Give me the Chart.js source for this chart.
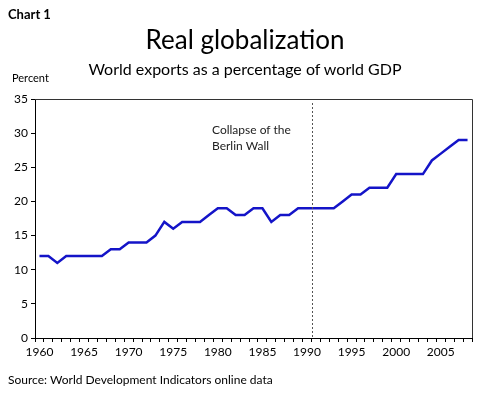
<!DOCTYPE html>
<html>
<head>
<meta charset="utf-8">
<script src="https://cdn.jsdelivr.net/npm/chart.js@4/dist/chart.umd.min.js"></script>
<style>
  body { margin: 0; background: #fff; }
  #wrap { position: relative; width: 480px; height: 396px; font-family: Lato, sans-serif; color: #000; }
  #wrap canvas { position: absolute; left: 0; top: 0; }
  .txt { position: absolute; white-space: nowrap; line-height: 1; }
</style>
</head>
<body>
<div id="wrap">
  <canvas id="chart" width="480" height="396"></canvas>
  <div class="txt" style="left:8px; top:8px; font-size:13px; font-weight:bold;">Chart 1</div>
  <div class="txt" style="left:0; width:490px; text-align:center; top:26px; font-size:26px;">Real globalization</div>
  <div class="txt" style="left:0; width:490px; text-align:center; top:61px; font-size:16px;">World exports as a percentage of world GDP</div>
  <div class="txt" style="left:12px; top:72px; font-size:11px;">Percent</div>
  <div class="txt" style="left:212px; top:122px; font-size:12px; line-height:16px; color:#222;">Collapse of the<br>Berlin Wall</div>
  <div class="txt" style="left:8px; top:374px; font-size:12px;">Source: World Development Indicators online data</div>
</div>
<script>
// years 1960 - 2008
const years = [];
for (let y = 1960; y <= 2008; y++) {
    years.push(String(y));
}

// world exports, % of world GDP
const exportsShare = [
    12, 12, 11, 12, 12, 12, 12, 12, 13, 13,
    14, 14, 14, 15, 17, 16, 17, 17, 17, 18,
    19, 19, 18, 18, 19, 19, 17, 18, 18, 19,
    19, 19, 19, 19, 20, 21, 21, 22, 22, 22,
    24, 24, 24, 24, 26, 27, 28, 29, 29
];

const yTicks = [0, 5, 10, 15, 20, 25, 30, 35];
const wallPosition = 30.6; // category index, between 1990 and 1991

const frameAndMarker = {
    id: 'frameAndMarker',
    afterDatasetsDraw(chart) {
        const { ctx, chartArea, scales } = chart;
        ctx.save();
        // dashed line
        const x = Math.round(scales.x.getPixelForValue(wallPosition)) + 0.5;
        ctx.strokeStyle = '#555';
        ctx.lineWidth = 1;
        ctx.setLineDash([2, 2]);
        ctx.beginPath();
        ctx.moveTo(x, chartArea.top + 4);
        ctx.lineTo(x, chartArea.bottom);
        ctx.stroke();
        // top & right border
        ctx.setLineDash([]);
        ctx.strokeStyle = '#333';
        ctx.beginPath();
        ctx.moveTo(chartArea.left, chartArea.top + 0.5);
        ctx.lineTo(chartArea.right + 0.5, chartArea.top + 0.5);
        ctx.lineTo(chartArea.right + 0.5, chartArea.bottom);
        ctx.stroke();
        ctx.restore();
    }
};

const ctx = document.getElementById('chart').getContext('2d');

new Chart(ctx, {
    type: 'line',
    data: {
        labels: years,
        datasets: [{
            data: exportsShare,
            borderColor: '#1414c8',
            borderWidth: 2.5,
            pointRadius: 0,
            tension: 0,
            fill: false
        }]
    },
    options: {
        responsive: false,
        animation: false,
        layout: { padding: { top: 99, right: 8, left: 0, bottom: 0 } },
        plugins: {
            legend: { display: false },
            tooltip: { enabled: false }
        },
        scales: {
            x: {
                offset: true,
                afterFit: (scale) => { scale.height = 58; },
                grid: {
                    offset: true,
                    drawOnChartArea: false,
                    drawTicks: true,
                    tickLength: 4,
                    color: '#000'
                },
                border: { color: '#000', width: 1 },
                ticks: {
                    autoSkip: false,
                    maxRotation: 0,
                    padding: 3,
                    color: '#000',
                    font: { family: 'Lato', size: 12 },
                    callback: function(value, index) {
                        const lbl = years[index];
                        return Number(lbl) % 5 === 0 ? lbl : '';
                    }
                }
            },
            y: {
                min: 0,
                max: 35,
                afterFit: (scale) => { scale.width = 35; },
                afterBuildTicks: (scale) => { scale.ticks = yTicks.map(v => ({ value: v })); },
                grid: {
                    drawOnChartArea: false,
                    drawTicks: true,
                    tickLength: 4,
                    color: '#000'
                },
                border: { color: '#000', width: 1 },
                ticks: {
                    padding: 3,
                    color: '#000',
                    font: { family: 'Lato', size: 12 }
                }
            }
        }
    },
    plugins: [frameAndMarker]
});
</script>
</body>
</html>
